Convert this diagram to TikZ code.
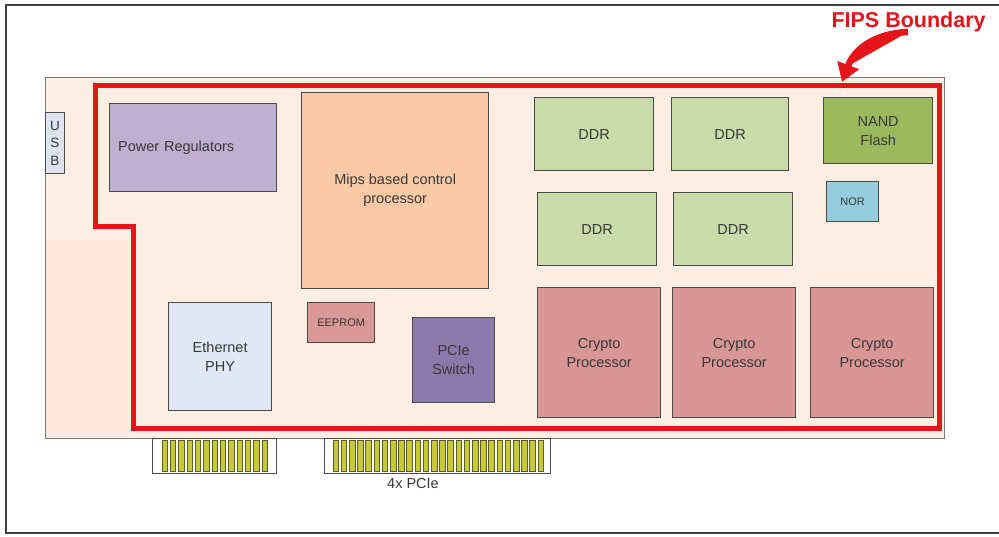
\documentclass[tikz,border=0pt]{standalone}
\usepackage{fontspec}
\setmainfont{Liberation Sans}
\usetikzlibrary{arrows.meta}
\definecolor{boardfill}{HTML}{FDEEE4}
\definecolor{boardshade}{HTML}{FCE8DC}
\definecolor{boardline}{HTML}{7A7A7A}
\definecolor{boxline}{HTML}{4A4A4A}
\definecolor{txt}{HTML}{383838}
\definecolor{fipsred}{HTML}{E5141B}
\definecolor{pwrfill}{HTML}{BFB0D2}
\definecolor{mipsfill}{HTML}{F9CAA5}
\definecolor{ddrfill}{HTML}{C9DBA8}
\definecolor{nandfill}{HTML}{9BBA5E}
\definecolor{norfill}{HTML}{95CDDD}
\definecolor{cryptofill}{HTML}{D99695}
\definecolor{ethfill}{HTML}{DFE8F4}
\definecolor{eepfill}{HTML}{D99795}
\definecolor{pciefill}{HTML}{8D78AB}
\definecolor{usbfill}{HTML}{DDE4EF}
\definecolor{pinfill}{HTML}{C9C935}
\definecolor{pinline}{HTML}{5A5A2A}
\tikzset{
  chip/.style={draw=boxline, line width=1.3pt, rectangle, anchor=north west,
    text=txt, align=center, inner sep=2pt,
    font=\fontsize{14.5}{19}\selectfont},
  smallchip/.style={chip, font=\fontsize{11}{14}\selectfont},
  pin/.style={draw=pinline, line width=0.7pt, fill=pinfill},
  connbox/.style={draw=boxline, line width=1.2pt, fill=white, rectangle, anchor=north west, inner sep=0pt},
  fips/.style={draw=fipsred, line width=5pt, line join=miter}
}
\begin{document}
\begin{tikzpicture}[x=1pt,y=-1pt]
\useasboundingbox (0,0) rectangle (999,536);
% outer frame
\draw[line width=2.5pt, draw=black!75] (999,5) -- (6,5) -- (6,533) -- (999,533);
% board
\node[draw=boardline, line width=1.2pt, fill=boardfill, rectangle, anchor=north west,
  minimum width=899pt, minimum height=361pt, inner sep=0pt] (board) at (45,77) {};
\fill[boardshade] (46,240) rectangle (128,437);
% connectors
\node[connbox, minimum width=124pt, minimum height=35pt] (conA) at (152,438) {};
\node[connbox, minimum width=226pt, minimum height=35pt] (conB) at (324,438) {};
\foreach \i in {0,...,12} {
  \draw[pin] ({162+\i*8.33},440) rectangle ++(5.5,31);
}
\foreach \i in {0,...,25} {
  \draw[pin] ({333+\i*8.2},440) rectangle ++(5.5,31);
}
\node[text=txt, font=\fontsize{14.5}{17}\selectfont] (pcielbl) at (413,484) {4x PCIe};
% USB
\node[chip, fill=usbfill, line width=1pt, minimum width=19pt, minimum height=61pt, inner sep=0pt,
  font=\fontsize{13.5}{17.5}\selectfont] (usb) at (45,112) {U\\S\\B};
% FIPS boundary
\draw[fips] (95,85) -- (939,85) -- (939,428) -- (133,428) -- (133,226) -- (95,226) -- cycle;
% chips
\node[chip, fill=pwrfill, minimum width=167pt, minimum height=88pt, align=left,
  text width=150pt, inner xsep=8pt] (pwr) at (109,103) {Power Regulators};
\node[chip, fill=mipsfill, minimum width=187pt, minimum height=196pt] (mips) at (301,92) {Mips based control\\processor};
\node[chip, fill=ddrfill, minimum width=119pt, minimum height=73pt] (ddr1) at (534,97) {DDR};
\node[chip, fill=ddrfill, minimum width=117pt, minimum height=73pt] (ddr2) at (671,97) {DDR};
\node[chip, fill=ddrfill, minimum width=119pt, minimum height=73pt] (ddr3) at (537,192) {DDR};
\node[chip, fill=ddrfill, minimum width=119pt, minimum height=73pt] (ddr4) at (673,192) {DDR};
\node[chip, fill=nandfill, minimum width=109pt, minimum height=66pt] (nand) at (823,97) {NAND\\Flash};
\node[smallchip, fill=norfill, minimum width=52pt, minimum height=40pt] (nor) at (826,181) {NOR};
\node[chip, fill=cryptofill, minimum width=123pt, minimum height=130pt] (cp1) at (537,287) {Crypto\\Processor};
\node[chip, fill=cryptofill, minimum width=123pt, minimum height=130pt] (cp2) at (672,287) {Crypto\\Processor};
\node[chip, fill=cryptofill, minimum width=123pt, minimum height=130pt] (cp3) at (810,287) {Crypto\\Processor};
\node[chip, fill=ethfill, minimum width=103pt, minimum height=108pt] (eth) at (168,302) {Ethernet\\PHY};
\node[smallchip, fill=eepfill, minimum width=67pt, minimum height=40pt] (eeprom) at (307,302) {EEPROM};
\node[chip, fill=pciefill, minimum width=82pt, minimum height=85pt] (pcie) at (412,317) {PCIe\\Switch};
% FIPS label and arrow
\node[text=fipsred, font=\bfseries\fontsize{21.5}{25}\selectfont, anchor=west] (fipslbl) at (828,22) {FIPS Boundary};
\coordinate (arrstart) at (908,32);
\coordinate (arrtip) at (842,82);
\draw[draw=fipsred, fill=fipsred, line width=6.5pt, -{Triangle[length=18pt,width=22pt]}]
  (arrstart) .. controls (878,33) and (855,47) .. (arrtip);
\end{tikzpicture}
\end{document}
